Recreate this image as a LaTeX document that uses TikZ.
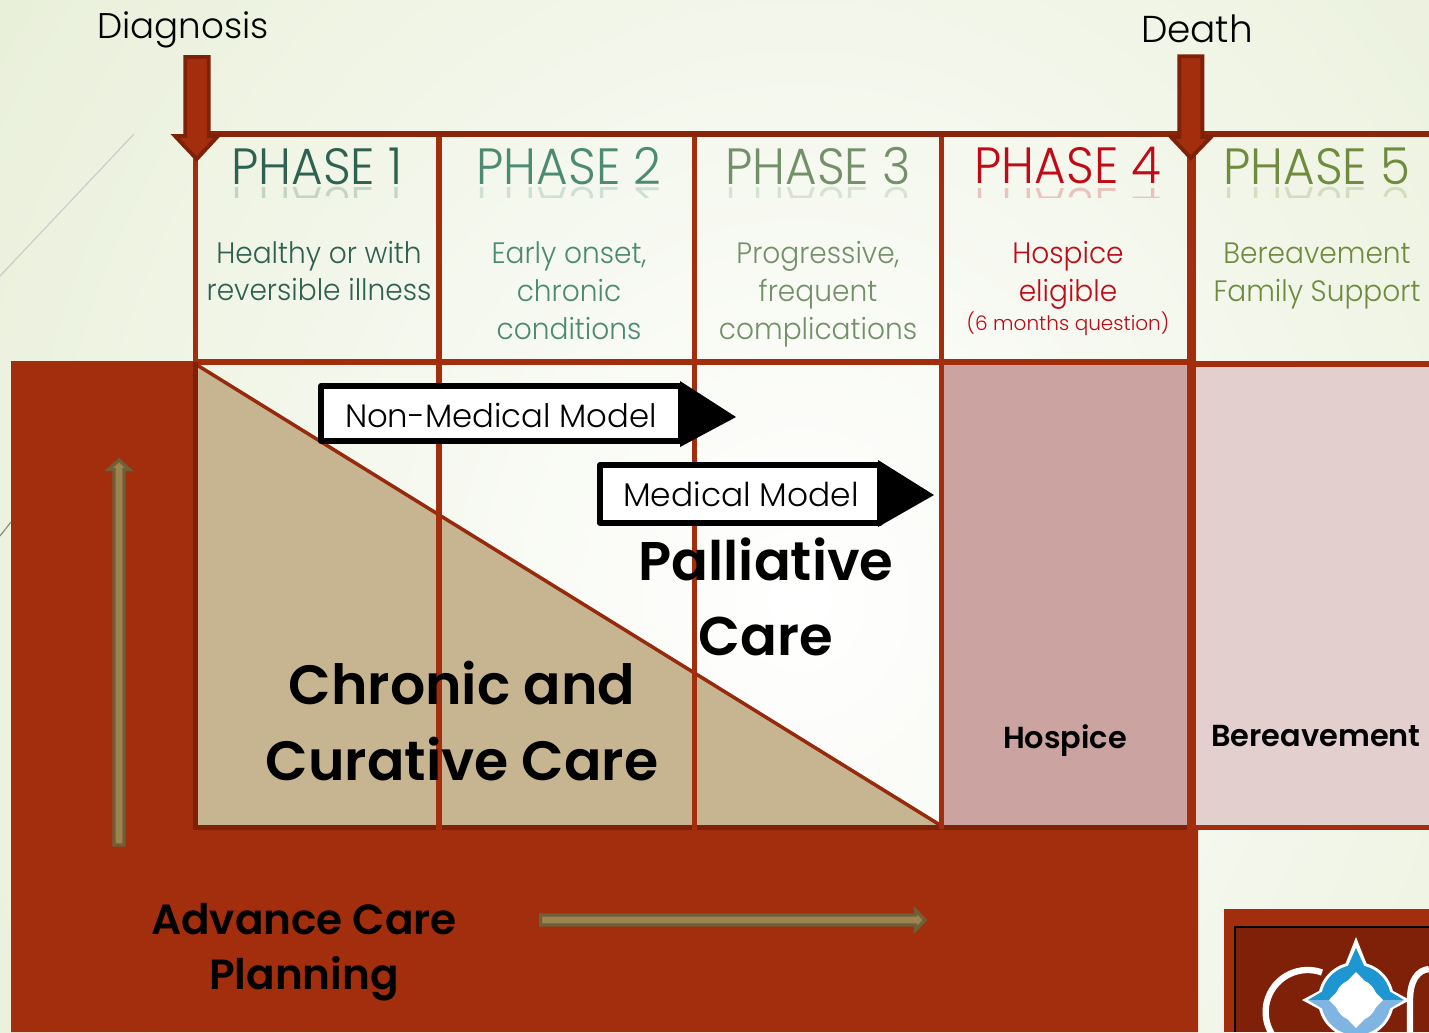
\documentclass[tikz,border=0pt]{standalone}
\usepackage{fontspec}
\setmainfont{Poppins Light}
\newfontfamily\boldfont{Poppins SemiBold}
\newfontfamily\narrowfont[FakeStretch=0.95]{Poppins Light}
\definecolor{rust}{HTML}{A32E0D}
\definecolor{rustdark}{HTML}{7F2009}
\definecolor{tan}{HTML}{C7B591}
\definecolor{olive}{HTML}{9C8350}
\definecolor{olivedark}{HTML}{6F6038}
\definecolor{paleback}{HTML}{E8EFD8}
\definecolor{hospicefill}{HTML}{CBA3A1}
\definecolor{bereavefill}{HTML}{E2CFCE}
\definecolor{phaseone}{HTML}{2F6150}
\definecolor{phasetwo}{HTML}{4C8A72}
\definecolor{phasethree}{HTML}{73906A}
\definecolor{phasefour}{HTML}{C00A17}
\definecolor{phasefive}{HTML}{6F8B3E}
\definecolor{logoblue}{HTML}{1E96D2}
\definecolor{logolight}{HTML}{7FB5E0}
\tikzset{
	gridline/.style={line width=3.3pt,draw=rust},
	phasetitle/.style={font=\fontsize{29}{29}\narrowfont,anchor=center},
	phasetext/.style={font=\fontsize{16.8}{21.6}\narrowfont,align=center,anchor=center},
	modelbox/.style={draw=black,line width=3.4pt,fill=white,line join=round},
	modeltext/.style={font=\fontsize{18.4}{22}\selectfont,anchor=center},
	caretext/.style={font=\fontsize{31.5}{43}\boldfont,align=center,anchor=center,text=black},
	smallcare/.style={font=\fontsize{17.3}{22}\boldfont,anchor=center,text=black},
	timeline/.style={font=\fontsize{20.3}{25}\selectfont,anchor=center,text=black},
	dropmark/.style={fill=rust,draw=rustdark,line width=2.2pt,line join=miter},
	thinarrow/.style={fill=olive,draw=olivedark,line width=1.9pt},
	logostroke/.style={draw=white,line width=3.6pt},
}
\begin{document}
\begin{tikzpicture}[x=0.02cm,y=-0.02cm]
	\useasboundingbox (0,0) rectangle (1429,1032);
	\clip (0,0) rectangle (1429,1032);
	% background
	\fill[paleback] (0,0) rectangle (1429,1032);
	\shade[inner color=white,outer color=paleback] (-200,-500) rectangle (1800,1700);
	\draw[black!20,line width=0.7pt] (0,276) -- (134,134);
	\draw[black!45,line width=0.7pt] (0,536) -- (11,522);
	% red block
	\fill[rust] (11,361) -- (197,361) -- (197,829) -- (1198,829) -- (1198,1032) -- (11,1032) -- cycle;
	% cell fills
	\fill[tan] (197,365) -- (940,825) -- (197,825) -- cycle;
	\fill[hospicefill] (941,365) rectangle (1190,826);
	\fill[bereavefill] (1192,365) rectangle (1429,826);
	\draw[rust!92!black,line width=2pt] (197,365) -- (940,825);
	% grid
	\draw[gridline] (195.5,362) -- (1190,362);
	\draw[gridline] (1190,364) -- (1429,364);
	\draw[gridline,draw=rustdark] (195.5,362) -- (195.5,827.5) -- (1190,827.5);
	\draw[gridline] (1192,827.5) -- (1429,827.5);
	\draw[gridline] (195.5,134) -- (195.5,362);
	\draw[gridline] (439,134) -- (439,833);
	\draw[gridline] (694.5,134) -- (694.5,833);
	\draw[gridline,line width=2.7pt] (941.7,134) -- (941.7,829);
	\draw[gridline,line width=5.1pt] (1191.5,134) -- (1191.5,831);
	\draw[gridline,draw=rustdark!70!rust] (193,134) -- (1429,134);
	% timeline markers
	\node[timeline] (diagnosis) at (183,30) {Diagnosis};
	\node[timeline,font=\fontsize{21.3}{25}\selectfont] (death) at (1197,29) {Death};
	\draw[dropmark] (185.3,57) -- (208.7,57) -- (208.7,136) -- (218,136) -- (196.7,159) -- (175,136) -- (185.3,136) -- cycle;
	\draw[dropmark] (1179.3,56.3) -- (1202.3,56.3) -- (1202.3,137) -- (1211,137) -- (1190.7,158) -- (1171,137) -- (1179.3,137) -- cycle;
	% phases
	\foreach \px/\py/\pname/\pcolor in {317/166/1/phaseone,569/166/2/phasetwo,818/166/3/phasethree,1068/166/4/phasefour,1317/166/5/phasefive}{
		\begin{scope}
			\clip (\px-110,186) rectangle (\px+110,197);
			\node[phasetitle,text=\pcolor,text opacity=0.22,yscale=-1,transform shape] (mirror\pname) at (\px,\py+40) {PHASE \pname};
		\end{scope}
		\node[phasetitle,text=\pcolor] (phase\pname) at (\px,\py) {PHASE \pname};
	}
	\node[phasetext,text=phaseone] (texta) at (319,271) {Healthy or with\\reversible illness};
	\node[phasetext,text=phasetwo] (textb) at (569,291) {Early onset,\\chronic\\conditions};
	\node[phasetext,text=phasethree] (textc) at (818,294) {Progressive,\\frequent\\complications};
	\node[phasetext,text=phasefour] (textd) at (1068,275) {Hospice\\eligible};
	\node[font=\fontsize{11.4}{15}\selectfont,text=phasefour] (texte) at (1068,324) {(6 months question)};
	\node[phasetext,text=phasefive] (textf) at (1317,276) {Bereavement\\Family Support};
	% models
	\draw[modelbox] (321,386) -- (681,386) -- (681,441) -- (321,441) -- cycle;
	\fill[black] (680,381) -- (736,417) -- (680,447) -- cycle;
	\node[modeltext] (nonmedical) at (501,415) {Non-Medical Model};
	\draw[modelbox] (600,465) -- (880,465) -- (880,523) -- (600,523) -- cycle;
	\fill[black] (878,460) -- (934,495) -- (878,527) -- cycle;
	\node[modeltext,font=\fontsize{18.7}{22}\selectfont] (medical) at (741,494) {Medical Model};
	% care areas
	\node[caretext,font=\fontsize{31}{43}\boldfont] (palliative) at (766,597) {Palliative\\Care};
	\node[caretext] (chronic) at (462,721) {Chronic and\\Curative Care};
	\node[smallcare] (hospice) at (1065,741) {Hospice};
	\node[smallcare] (bereave) at (1316,736) {Bereavement};
	\node[font=\fontsize{24}{31.5}\boldfont,align=center,text=black] (advance) at (304,952) {Advance Care\\Planning};
	% small arrows
	\draw[thinarrow] (114,845) -- (124,845) -- (124,469.5) -- (129.5,469.5) -- (119,460) -- (108.5,469.5) -- (114,469.5) -- cycle;
	\draw[thinarrow] (540.5,915) -- (915.5,915) -- (915.5,910) -- (925,920) -- (915.5,930) -- (915.5,925) -- (540.5,925) -- cycle;
	% logo
	\fill[rust] (1224,909) rectangle (1429,1032);
	\fill[rustdark] (1235,927) rectangle (1429,1032);
	\draw[black,line width=0.6pt] (1235,1032) -- (1235,927) -- (1429,927);
	\draw[logostroke] (1322,972.5) arc (-70:-290:42);
	\fill[white] (1356,1000) circle (38);
	\fill[white] (1356,937) -- (1343,970) -- (1369,970) -- cycle;
	\fill[white] (1302,1000) -- (1330,985) -- (1330,1015) -- cycle;
	\fill[white] (1410,1000) -- (1382,985) -- (1382,1015) -- cycle;
	\fill[logoblue] (1321,1000) arc (180:360:35) -- cycle;
	\fill[logoblue] (1356,948) -- (1346,970) -- (1366,970) -- cycle;
	\fill[logoblue] (1308,1000) -- (1328,1000) -- (1328,988) -- cycle;
	\fill[logoblue] (1404,1000) -- (1384,1000) -- (1384,988) -- cycle;
	\fill[logolight] (1321,1000) arc (180:0:35) -- cycle;
	\fill[logolight] (1308,1000) -- (1328,1000) -- (1328,1012) -- cycle;
	\fill[logolight] (1404,1000) -- (1384,1000) -- (1384,1012) -- cycle;
	\fill[white] (1356,1000) circle (21);
	\fill[white] (1356,972) -- (1329,1000) -- (1356,1028) -- (1383,1000) -- cycle;
	\draw[logostroke] (1410,1032) -- (1410,1000) .. controls (1410,980) and (1418,970) .. (1429,969);
\end{tikzpicture}
\end{document}
